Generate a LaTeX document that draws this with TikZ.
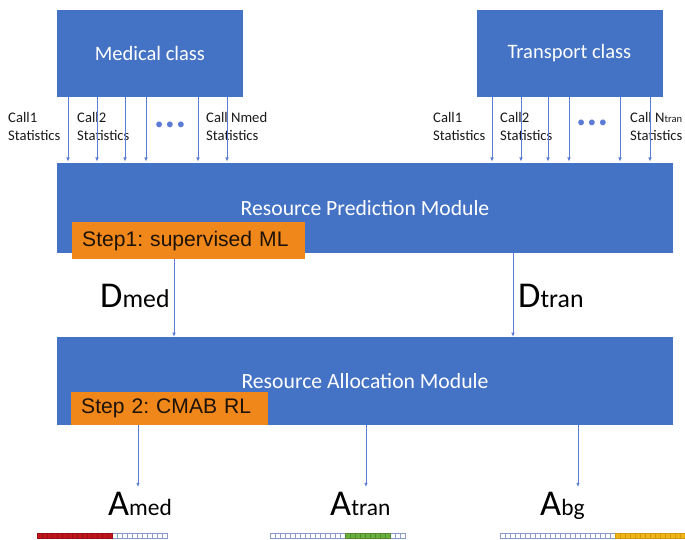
\documentclass[tikz,border=0pt]{standalone}
\usepackage{fontspec}
\setmainfont{Carlito}
\newfontfamily\stepfont{Liberation Sans}
\usetikzlibrary{positioning, arrows.meta}
\definecolor{ModuleBlue}{HTML}{4472C4}
\definecolor{StepOrange}{HTML}{F0871A}
\definecolor{ArrowBlue}{HTML}{5B7BD5}
\definecolor{CellEdge}{HTML}{8C9CC8}
\definecolor{MedRed}{HTML}{C0141C}
\definecolor{TranGreen}{HTML}{6AAE3C}
\definecolor{BgGold}{HTML}{F2B416}
\frenchspacing

\begin{document}
\begin{tikzpicture}[
            x=0.3mm, y=-0.3mm,
            classbox/.style={fill=ModuleBlue, minimum width=55.8mm, minimum height=26.1mm, text=white, font=\fontsize{17.5}{20}\selectfont},
            module/.style={fill=ModuleBlue, minimum width=184.8mm, text=white, font=\fontsize{18.5}{20}\selectfont},
            stepbox/.style={fill=StepOrange, anchor=north west, inner xsep=3mm, align=left, text=black!85!brown, font=\stepfont\fontsize{18}{20}\selectfont},
            calltext/.style={anchor=north west, inner sep=0pt, align=left, text=black!90, font=\fontsize{12.5}{15.5}\selectfont},
            bigsym/.style={anchor=base west, inner sep=0pt, font=\fontsize{31}{31}\selectfont},
            arrow/.style={-{Latex[length=3.5pt,width=3pt]}, ArrowBlue, line width=0.6pt},
            cell/.style={draw=CellEdge, line width=0.5pt, fill=white}
        ]
            \useasboundingbox (0,0) rectangle (685,540);

            % classes
            \node[classbox] (medcls) at (150,53.5) {Medical class};
            \node[classbox] (trancls) at (569.5,53.5) {Transport class};

            % call statistics
            \node[calltext] (medc1) at (8,112) {Call1\\Statistics};
            \node[calltext] (medc2) at (77,112) {Call2\\Statistics};
            \node[calltext] (medcn) at (206,112) {Call Nmed\\Statistics};
            \node[text=ArrowBlue, font=\fontsize{14}{14}\selectfont] (meddots) at (170,126) {\textbullet\,\textbullet\,\textbullet};
            \node[calltext] (tranc1) at (433,112) {Call1\\Statistics};
            \node[calltext] (tranc2) at (500,112) {Call2\\Statistics};
            \node[calltext] (trancn) at (630,112) {Call N{\fontsize{9}{9}\selectfont tran}\\Statistics};
            \node[text=ArrowBlue, font=\fontsize{14}{14}\selectfont] (trandots) at (592,124) {\textbullet\,\textbullet\,\textbullet};

            % modules
            \node[module, minimum height=27mm] (pred) at (365,208) {\raisebox{-2pt}{Resource Prediction Module}};
            \node[stepbox, text width=63.9mm, minimum height=11.1mm] (step1) at (72,222) {Step1: supervised ML};
            \node[module, minimum height=26.4mm] (alloc) at (365,381) {Resource Allocation Module};
            \node[stepbox, text width=53.1mm, minimum height=9.9mm] (step2) at (71,392) {Step 2: CMAB RL};

            % demands and actions
            \node[bigsym] (dmed) at (100,307) {D{\fontsize{22}{22}\selectfont med}};
            \node[bigsym] (dtran) at (518,307) {D{\fontsize{22}{22}\selectfont tran}};
            \node[bigsym] (amed) at (108,515) {A{\fontsize{20}{20}\selectfont med}};
            \node[bigsym] (atran) at (330,515) {A{\fontsize{20}{20}\selectfont tran}};
            \node[bigsym] (abg) at (540,515) {A{\fontsize{20}{20}\selectfont bg}};

            \foreach \x in {68,97,125,146,198,227}
                \draw[arrow] (\x,0 |- medcls.south) -- ([yshift=1pt]\x,0 |- pred.north);
            \foreach \x in {492,521,548,569,620,650}
                \draw[arrow] (\x,0 |- trancls.south) -- ([yshift=1pt]\x,0 |- pred.north);

            \draw[arrow] (174,0 |- step1.south) -- (174,0 |- alloc.north);
            \draw[arrow] (513,0 |- pred.south) -- (513,0 |- alloc.north);

            \draw[arrow] (138,0 |- step2.south) -- (138,487);
            \draw[arrow] (366,0 |- alloc.south) -- (366,487);
            \draw[arrow] (578,0 |- alloc.south) -- (578,487);

            % allocation bars
            \foreach \i in {0,...,25}
                \draw[cell] (37+5*\i,533) rectangle ++(5,5);
            \foreach \i in {0,...,14}
                \draw[cell, fill=MedRed, draw=MedRed!80!black] (37+5*\i,533) rectangle ++(5,5);
            \foreach \i in {0,...,26}
                \draw[cell] (270+5*\i,533) rectangle ++(5,5);
            \foreach \i in {15,...,23}
                \draw[cell, fill=TranGreen, draw=TranGreen!80!black] (270+5*\i,533) rectangle ++(5,5);
            \foreach \i in {0,...,36}
                \draw[cell] (500+5*\i,533) rectangle ++(5,5);
            \foreach \i in {23,...,36}
                \draw[cell, fill=BgGold, draw=BgGold!85!black] (500+5*\i,533) rectangle ++(5,5);
        \end{tikzpicture}
\end{document}
